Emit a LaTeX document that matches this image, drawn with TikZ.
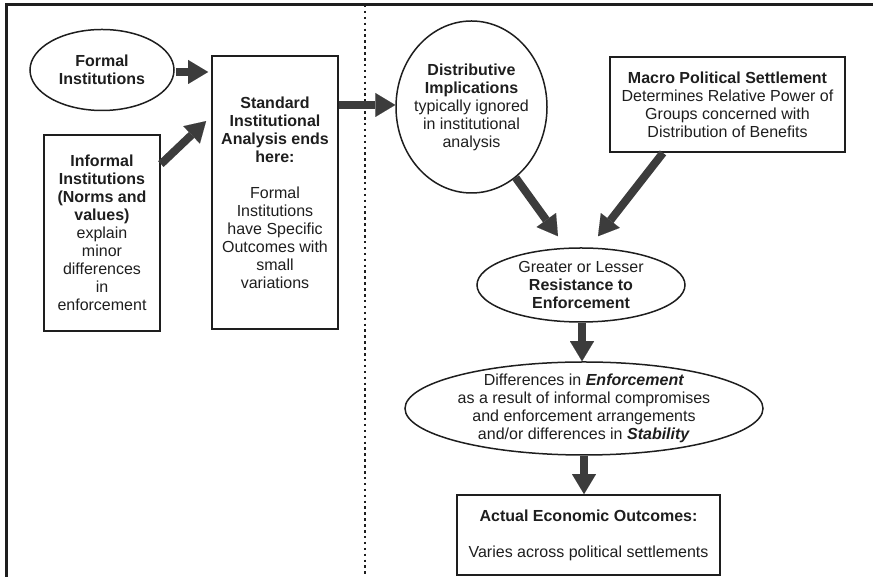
\documentclass[tikz,border=0pt]{standalone}
\usepackage{fontspec}
\setmainfont{Liberation Sans}
\usetikzlibrary{arrows.meta,shapes.geometric}
\definecolor{arrowgray}{HTML}{3C3C3C}
\definecolor{inkgray}{HTML}{1E1E1E}
\begin{document}
\begin{tikzpicture}[x=1pt,y=1pt,
  every node/.style={font=\fontsize{16}{18}\selectfont, text=inkgray},
  box/.style={draw=inkgray, line width=1.8pt, rectangle, inner sep=0pt, align=center},
  ell/.style={draw=inkgray, line width=1.5pt, ellipse, inner sep=0pt},
  lbl/.style={align=center, inner sep=0pt, draw=none},
  bigarrow/.style={draw=arrowgray, line width=8pt, -{Triangle[width=24pt,length=20pt,line width=0.01pt]}}]
\useasboundingbox (0,0) rectangle (873,577);
% frame
\draw[line width=3pt, inkgray] (6.5,0) -- (6.5,572) -- (873,572);
\draw[line width=2.5pt, dash pattern=on 2.5pt off 3.4pt, inkgray] (365,572) -- (365,0);

% nodes
\node[ell, minimum width=144pt, minimum height=81pt,
  label={[lbl]center:{\textbf{Formal}\\\textbf{Institutions}}}] (form) at (102,507) {};
\node[box, minimum width=126pt, minimum height=273pt] (std) at (275,384.5)
  {\textbf{Standard}\\\textbf{Institutional}\\\textbf{Analysis ends}\\\textbf{here:}\\[18pt]Formal\\Institutions\\have Specific\\Outcomes with\\small\\variations};
\node[box, minimum width=116pt, minimum height=196pt] (inf) at (102,344)
  {\textbf{Informal}\\\textbf{Institutions}\\\textbf{(Norms and}\\\textbf{values)}\\explain\\minor\\differences\\in\\enforcement};
\node[ell, minimum width=151pt, minimum height=172pt,
  label={[lbl]center:{\textbf{Distributive}\\\textbf{Implications}\\typically ignored\\in institutional\\analysis}}] (dist) at (471.5,470) {};
\node[box, minimum width=235pt, minimum height=95pt] (macro) at (727.5,472.5)
  {\textbf{Macro Political Settlement}\\Determines Relative Power of\\Groups concerned with\\Distribution of Benefits};
\node[ell, minimum width=208pt, minimum height=74pt,
  label={[lbl]center:{Greater or Lesser\\\textbf{Resistance to}\\\textbf{Enforcement}}}] (res) at (581,292) {};
\node[ell, minimum width=358pt, minimum height=93pt,
  label={[lbl]center:{Differences in \textbf{\textit{Enforcement}}\\as a result of informal compromises\\and enforcement arrangements\\and/or differences in \textbf{\textit{Stability}}}}] (diff) at (584,168.5) {};
\node[box, minimum width=263pt, minimum height=80pt] (act) at (588.5,42)
  {\textbf{Actual Economic Outcomes:}\\[18pt]Varies across political settlements};

% arrows
\draw[bigarrow] ([xshift=1pt,yshift=-2pt]form.east) -- ([xshift=-3pt,yshift=-2pt]form.east -| std.west);
\draw[bigarrow] ([yshift=-30pt]inf.north east) -- ([xshift=-5pt,yshift=-66pt]std.north west);
\draw[bigarrow] ([yshift=2pt]std.east |- dist.west) -- ([yshift=2pt]dist.west);
\draw[bigarrow] (dist.-58.5) -- ([xshift=-23pt,yshift=11pt]res.north);
\draw[bigarrow] ([xshift=-64.5pt]macro.south) -- ([xshift=17pt,yshift=11pt]res.north);
\draw[bigarrow] ([xshift=1pt]res.south) -- ([xshift=1pt]res.south |- diff.north);
\draw[bigarrow] (diff.south) -- (diff.south |- act.north);
\end{tikzpicture}
\end{document}
